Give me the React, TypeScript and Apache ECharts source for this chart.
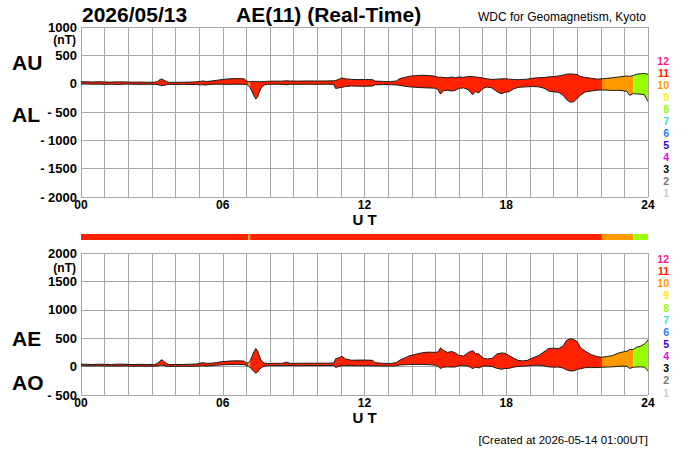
import React, { useEffect, useRef } from "react";
import * as echarts from "echarts";

// ---- data ----
const hours = [
  0, 0.25, 0.5, 0.75, 1, 1.3, 1.6, 1.9, 2.2, 2.5,
  2.8, 3.1, 3.25, 3.35, 3.42, 3.5, 3.62, 3.75, 4, 4.3,
  4.6, 4.9, 5.05, 5.15, 5.3, 5.5, 5.75, 6, 6.3, 6.6,
  6.9, 7, 7.08, 7.16, 7.24, 7.32, 7.4, 7.48, 7.56, 7.65,
  7.75, 7.9, 8.2, 8.5, 8.7, 8.85, 9.2, 9.6, 10, 10.4,
  10.7, 10.78, 10.9, 11.05, 11.2, 11.45, 11.75, 12.05, 12.35, 12.45,
  12.8, 13.1, 13.35, 13.5, 13.7, 13.9, 14.1, 14.4, 14.7, 15,
  15.12, 15.22, 15.32, 15.5, 15.7, 15.85, 16, 16.2, 16.4, 16.58,
  16.7, 16.85, 17, 17.2, 17.4, 17.6, 17.8, 17.95, 18.1, 18.3,
  18.5, 18.7, 18.9, 19.1, 19.35, 19.6, 19.8, 20, 20.2, 20.4,
  20.55, 20.7, 20.85, 21, 21.15, 21.35, 21.6, 21.85, 22.05, 22.3,
  22.5, 22.7, 22.9, 23.1, 23.22, 23.38, 23.5, 23.7, 23.85, 23.95, 24,
];

const auValues = [
  35, 32, 30, 34, 30, 28, 32, 30, 26, 28,
  25, 24, 40, 75, 82, 65, 35, 22, 24, 26,
  28, 32, 40, 48, 38, 45, 60, 75, 85, 90,
  85, 50, 36, 36, 38, 40, 40, 38, 36, 35,
  38, 42, 45, 44, 52, 46, 45, 48, 46, 48,
  50, 55, 75, 100, 85, 75, 72, 75, 70, 45,
  40, 35, 48, 90, 110, 130, 140, 148, 145, 130,
  112, 115, 110, 105, 115, 105, 118, 112, 127, 125,
  118, 112, 100, 85, 75, 80, 85, 88, 80, 75,
  70, 75, 80, 95, 105, 108, 120, 125, 135, 150,
  168, 172, 168, 160, 125, 110, 95, 80, 85, 95,
  105, 115, 125, 135, 130, 145, 165, 175, 180, 170, 165,
];

const alValues = [
  -8, -6, -10, -8, -12, -10, -14, -8, -10, -12,
  -10, -12, -18, -28, -35, -30, -20, -12, -14, -12,
  -15, -14, -20, -18, -22, -12, -10, -10, -12, -10,
  -12, -15, -30, -70, -140, -215, -272, -230, -130, -60,
  -25, -12, -10, -12, -18, -10, -12, -10, -12, -10,
  -14, -85, -75, -65, -50, -40, -45, -45, -40, -20,
  -15, -18, -22, -30, -45, -55, -62, -70, -75, -80,
  -110, -185, -130, -115, -130, -118, -82, -75, -110, -195,
  -140, -160, -85, -60, -75, -140, -180, -150, -145, -95,
  -65, -60, -55, -50, -55, -80, -130, -145, -150, -200,
  -280, -325, -320, -260, -200, -145, -130, -115, -110, -115,
  -120, -118, -122, -135, -205, -175, -180, -185, -195, -280, -315,
];

const aeValues = [
  42, 40, 38, 42, 40, 38, 44, 40, 36, 40,
  35, 36, 60, 105, 120, 95, 55, 35, 38, 38,
  42, 46, 62, 68, 58, 58, 72, 88, 98, 102,
  98, 65, 68, 105, 180, 260, 320, 270, 170, 95,
  62, 55, 58, 56, 78, 58, 58, 60, 60, 60,
  64, 140, 150, 180, 135, 112, 115, 115, 110, 68,
  58, 55, 70, 115, 150, 190, 210, 240, 255, 250,
  260, 330, 290, 250, 265, 240, 195, 185, 250, 280,
  230, 220, 150, 135, 145, 220, 240, 235, 200, 150,
  110, 100, 110, 150, 190, 260, 320, 325, 315, 360,
  460, 490, 480, 440, 330, 270, 210, 175, 165, 180,
  195, 230, 255, 270, 300, 300, 340, 360, 400, 440, 477,
];

const aoValues = [
  14, 13, 12, 14, 10, 10, 9, 12, 8, 8,
  8, 6, 12, 24, 25, 18, 8, 5, 5, 7,
  6, 9, 10, 15, 8, 16, 25, 32, 36, 40,
  36, 18, 3, -17, -50, -88, -115, -95, -48, -12,
  6, 15, 17, 16, 17, 18, 16, 19, 17, 19,
  18, -15, 0, 18, 18, 18, 14, 15, 15, 12,
  12, 9, 13, 30, 32, 38, 39, 39, 35, 25,
  0, -35, -10, -5, -8, -7, 18, 18, 8, -35,
  -11, -24, 7, 12, 0, -30, -48, -31, -32, -10,
  2, 7, 12, 22, 25, 14, -5, -10, -8, -25,
  -56, -76, -76, -50, -37, -18, -17, -17, -12, -7,
  -5, 3, 9, 7, -32, -12, -7, -5, -8, -55, -75,
];

// number of contributing stations over time
const stationStart = [0, 7.08, 7.16, 22.05, 23.38];
const stationEnd = [7.08, 7.16, 22.05, 23.38, 24];
const stationCount = [11, 10, 11, 10, 8];

const legendCounts = [12, 11, 10, 9, 8, 7, 6, 5, 4, 3, 2, 1];
const hourTickLabels = ["00", "06", "12", "18", "24"];

// ---- styling ----
const FONT = '"Liberation Sans", Arial, Helvetica, sans-serif';
const stationColors: Record<number, string> = {
  12: "#ff1a8c",
  11: "#ff2200",
  10: "#ff9900",
  9: "#ffee00",
  8: "#99ff00",
  7: "#33e6cc",
  6: "#1a80ff",
  5: "#3300ff",
  4: "#ee00ee",
  3: "#000000",
  2: "#777777",
  1: "#cccccc",
};
const GRID_COLOR = "#a6a6a6";
const OUTLINE = "#1a1a1a";

const segmentData = stationStart.map((s, i) => [s, stationEnd[i], stationCount[i]]);

function bandRenderer(upper: number[], lower: number[]) {
  return (_params: any, api: any) => {
    const s = api.value(0);
    const e = api.value(1);
    const n = api.value(2);
    const up: number[][] = [];
    const lo: number[][] = [];
    hours.forEach((h, i) => {
      if (h >= s - 1e-6 && h <= e + 1e-6) {
        up.push(api.coord([h, upper[i]]));
        lo.push(api.coord([h, lower[i]]));
      }
    });
    return {
      type: "polygon",
      shape: { points: up.concat(lo.reverse()) },
      style: { fill: stationColors[n] },
    };
  };
}

function barRenderer(_params: any, api: any) {
  const p0 = api.coord([api.value(0), 1]);
  const p1 = api.coord([api.value(1), 0]);
  return {
    type: "rect",
    shape: { x: p0[0], y: p0[1], width: p1[0] - p0[0], height: p1[1] - p0[1] },
    style: { fill: stationColors[api.value(2)] },
  };
}

const xLabelFormatter = (v: number) => (v % 6 === 0 ? hourTickLabels[v / 6] : "");
const yLabelFormatter = (v: number) => (v < 0 ? "- " + -v : String(v));

function xAxisFor(gridIndex: number, nameGap: number) {
  return {
    type: "value",
    gridIndex,
    min: 0,
    max: 24,
    interval: 1,
    axisLine: { show: false },
    axisTick: { show: false },
    splitLine: { show: true, lineStyle: { color: GRID_COLOR, width: 1 } },
    axisLabel: {
      formatter: xLabelFormatter,
      fontSize: 12,
      lineHeight: 12,
      fontWeight: "bold",
      color: "#000",
      fontFamily: FONT,
      margin: 2,
    },
    name: "U T",
    nameLocation: "middle",
    nameGap,
    nameTextStyle: {
      fontSize: 15,
      lineHeight: 15,
      fontWeight: "bold",
      color: "#000",
      fontFamily: FONT,
      verticalAlign: "middle",
    },
  };
}

function yAxisFor(gridIndex: number, min: number, max: number) {
  return {
    type: "value",
    gridIndex,
    min,
    max,
    interval: 500,
    axisLine: { show: false },
    axisTick: { show: false },
    splitLine: { show: true, lineStyle: { color: GRID_COLOR, width: 1 } },
    axisLabel: {
      formatter: yLabelFormatter,
      fontSize: 13,
      lineHeight: 12,
      fontWeight: "bold",
      color: "#000",
      fontFamily: FONT,
      margin: 4,
    },
  };
}

function lineSeries(name: string, xi: number, values: number[]) {
  return {
    type: "line",
    name,
    xAxisIndex: xi,
    yAxisIndex: xi,
    data: hours.map((h, i) => [h, values[i]]),
    symbol: "none",
    lineStyle: { color: OUTLINE, width: 1 },
    z: 3,
  };
}

function text(t: string, x: number, y: number, size: number, opts: any = {}) {
  return {
    type: "text",
    x,
    y,
    style: {
      text: t,
      fontSize: size,
      lineHeight: opts.lineHeight || size,
      fontWeight: opts.weight || "bold",
      fontFamily: FONT,
      fill: opts.color || "#000",
      align: opts.align || "left",
      verticalAlign: "middle",
    },
  };
}

const legendTexts = (y0: number, step: number) =>
  legendCounts.map((n, i) =>
    text(String(n), 669, y0 + i * step, 10.5, {
      align: "right",
      color: stationColors[n],
      lineHeight: 10,
    })
  );

const option = {
  animation: false,
  backgroundColor: "#fff",
  grid: [
    { left: 81, top: 27, width: 567, height: 170 },
    { left: 81, top: 253, width: 567, height: 142 },
    { left: 81, top: 234, width: 567, height: 6 },
  ],
  xAxis: [
    xAxisFor(0, 18),
    xAxisFor(1, 20),
    { type: "value", gridIndex: 2, min: 0, max: 24, show: false },
  ],
  yAxis: [
    yAxisFor(0, -2000, 1000),
    yAxisFor(1, -500, 2000),
    { type: "value", gridIndex: 2, min: 0, max: 1, show: false },
  ],
  series: [
    {
      type: "custom",
      name: "AU-AL",
      xAxisIndex: 0,
      yAxisIndex: 0,
      data: segmentData,
      renderItem: bandRenderer(auValues, alValues),
      z: 2,
    },
    lineSeries("AU", 0, auValues),
    lineSeries("AL", 0, alValues),
    {
      type: "custom",
      name: "AE-AO",
      xAxisIndex: 1,
      yAxisIndex: 1,
      data: segmentData,
      renderItem: bandRenderer(aeValues, aoValues),
      z: 2,
    },
    lineSeries("AE", 1, aeValues),
    lineSeries("AO", 1, aoValues),
    {
      type: "custom",
      name: "stations",
      xAxisIndex: 2,
      yAxisIndex: 2,
      data: segmentData,
      renderItem: barRenderer,
    },
  ],
  graphic: [
    text("2026/05/13", 82, 14.5, 21),
    text("AE(11) (Real-Time)", 236, 14.5, 21),
    text("WDC for Geomagnetism, Kyoto", 646, 17, 12, { weight: "normal", align: "right" }),
    text("AU", 12, 62.5, 21),
    text("AL", 12, 114.5, 21),
    text("AE", 12, 338.5, 21),
    text("AO", 12, 382.5, 21),
    text("(nT)", 76, 40, 12, { align: "right", lineHeight: 10 }),
    text("(nT)", 76, 267.5, 12, { align: "right", lineHeight: 10 }),
    text("[Created at 2026-05-14 01:00UT]", 648, 440, 11.5, { weight: "normal", align: "right" }),
    ...legendTexts(60.8, 12.05),
    ...legendTexts(259, 12.14),
  ],
};

export default function App() {
  const ref = useRef<HTMLDivElement>(null);
  useEffect(() => {
    const chart = echarts.init(ref.current!, null, { renderer: "svg" });
    chart.setOption(option as any);
    return () => chart.dispose();
  }, []);
  return (
    <div
      ref={ref}
      style={{ position: "absolute", left: 0, top: 0, width: 700, height: 450, background: "#fff" }}
    />
  );
}
